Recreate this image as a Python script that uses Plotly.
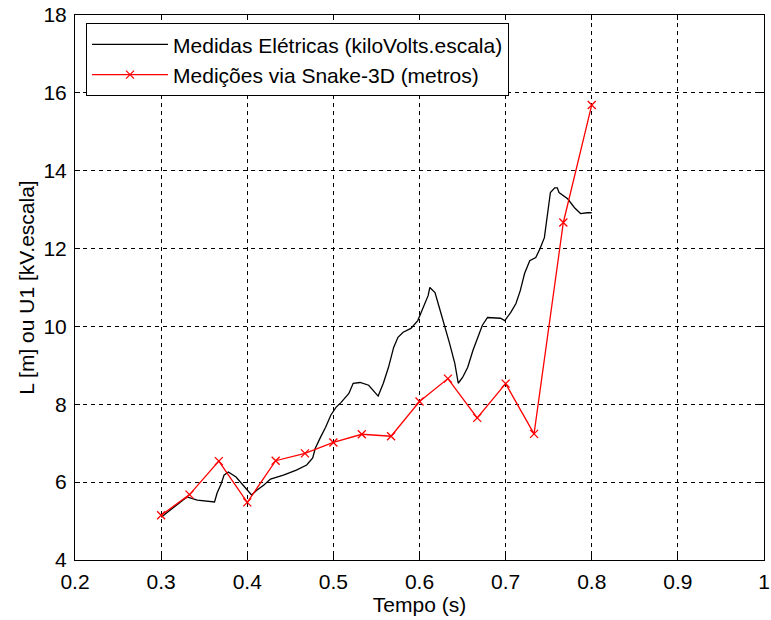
import plotly.graph_objects as go

# Electrical measurements (kV, scaled) sampled along time
tempo_eletr = [0.300, 0.315, 0.330, 0.342, 0.362, 0.365, 0.370, 0.373, 0.378, 0.387,
               0.393, 0.402, 0.405, 0.411, 0.419, 0.427, 0.442, 0.457, 0.469, 0.476,
               0.479, 0.485, 0.491, 0.497, 0.503, 0.509, 0.518, 0.523, 0.531, 0.541,
               0.552, 0.558, 0.564, 0.570, 0.575, 0.581, 0.590, 0.598, 0.604, 0.610,
               0.612, 0.618, 0.624, 0.630, 0.635, 0.641, 0.645, 0.650, 0.656, 0.662,
               0.668, 0.673, 0.679, 0.694, 0.699, 0.706, 0.712, 0.717, 0.722, 0.728,
               0.735, 0.740, 0.745, 0.749, 0.752, 0.757, 0.760, 0.762, 0.772, 0.780,
               0.787, 0.795, 0.800]
valor_eletr = [5.10, 5.36, 5.62, 5.54, 5.49, 5.72, 5.97, 6.18, 6.26, 6.13,
               5.97, 5.72, 5.67, 5.79, 5.92, 6.08, 6.18, 6.31, 6.44, 6.62,
               6.87, 7.15, 7.41, 7.72, 7.92, 8.05, 8.28, 8.54, 8.56, 8.49,
               8.21, 8.54, 8.95, 9.46, 9.72, 9.85, 9.95, 10.15, 10.49, 10.79,
               11.00, 10.87, 10.41, 9.97, 9.56, 9.05, 8.54, 8.69, 8.95, 9.38,
               9.72, 10.03, 10.23, 10.21, 10.15, 10.36, 10.59, 10.92, 11.36, 11.69,
               11.77, 12.00, 12.28, 12.90, 13.44, 13.56, 13.56, 13.44, 13.28, 13.05,
               12.90, 12.92, 12.92]

# Snake-3D measurements (metres)
tempo_snake = [0.300, 0.333, 0.367, 0.400, 0.433, 0.467, 0.500, 0.533,
               0.567, 0.600, 0.633, 0.667, 0.700, 0.733, 0.767, 0.800]
valor_snake = [5.15, 5.68, 6.54, 5.48, 6.55, 6.74, 7.02, 7.23,
               7.18, 8.07, 8.66, 7.65, 8.53, 7.24, 12.67, 15.69]

x_ticks = [0.2, 0.3, 0.4, 0.5, 0.6, 0.7, 0.8, 0.9, 1.0]
x_tick_labels = ["0.2", "0.3", "0.4", "0.5", "0.6", "0.7", "0.8", "0.9", "1"]
y_ticks = [4, 6, 8, 10, 12, 14, 16, 18]

FONT = "Arial, Liberation Sans, sans-serif"
FS = 21

fig = go.Figure()
fig.add_trace(go.Scatter(
    x=tempo_eletr, y=valor_eletr, mode="lines",
    name="Medidas Elétricas (kiloVolts.escala)",
    line=dict(color="black", width=1.3),
))
fig.add_trace(go.Scatter(
    x=tempo_snake, y=valor_snake, mode="lines+markers",
    name="Medições via Snake-3D (metros)",
    line=dict(color="#ff0000", width=1.3),
    marker=dict(symbol="x-thin", size=8, line=dict(color="#ff0000", width=1.3)),
))

axis_common = dict(
    showgrid=True, gridcolor="black", gridwidth=1, griddash="4px,4px",
    showline=True, linecolor="black", linewidth=1, mirror="ticks",
    ticks="inside", ticklen=5, tickcolor="black",
    zeroline=False, tickfont=dict(family=FONT, size=FS, color="black"),
    ticklabeloverflow="allow", automargin=False,
)

fig.update_xaxes(
    range=[0.2, 1.0], tickvals=x_ticks, ticktext=x_tick_labels,
    ticklabelstandoff=3,
    title=dict(text="Tempo (s)", font=dict(family=FONT, size=FS, color="black"), standoff=2),
    **axis_common,
)
fig.update_yaxes(
    range=[4, 18], tickvals=y_ticks,
    ticklabelstandoff=3,
    title=dict(text="L [m] ou U1 [kV.escala]", font=dict(family=FONT, size=FS, color="black"), standoff=3),
    **axis_common,
)

fig.update_layout(
    width=771, height=620,
    margin=dict(l=75, r=7, t=15, b=60),
    paper_bgcolor="white", plot_bgcolor="white",
    font=dict(family=FONT, size=FS, color="black"),
    showlegend=True,
    legend=dict(
        x=0.016, y=0.985, xanchor="left", yanchor="top",
        bgcolor="white", bordercolor="black", borderwidth=1,
        font=dict(family=FONT, size=FS, color="black"),
        itemwidth=76, tracegroupgap=0,
    ),
)

fig.write_html("out.html")
